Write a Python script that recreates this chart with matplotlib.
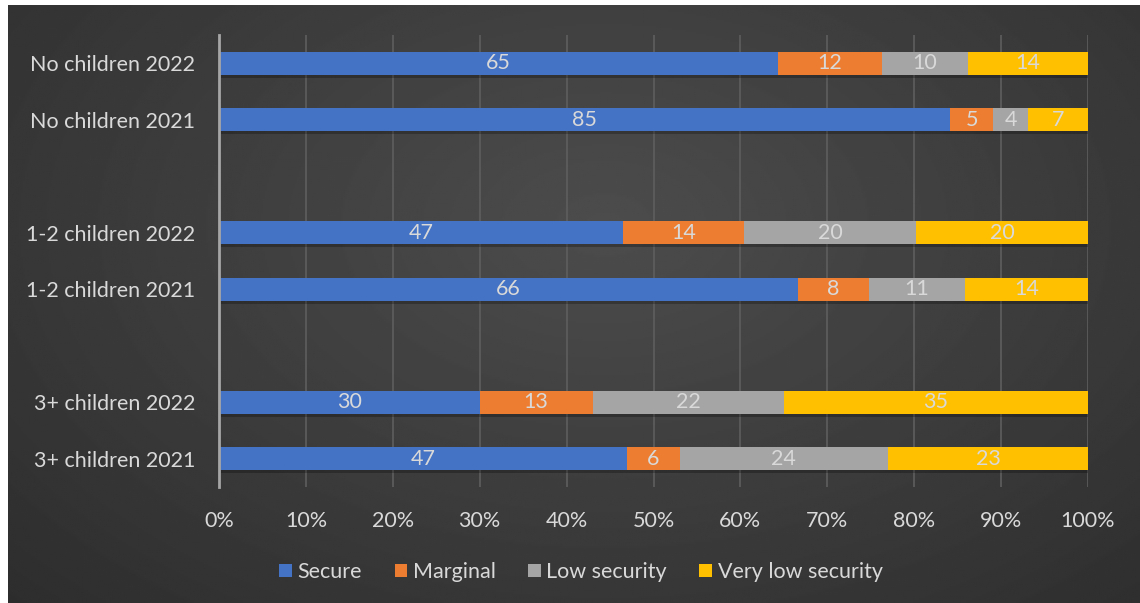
import numpy as np
import matplotlib
matplotlib.use('Agg')
import matplotlib.pyplot as plt
from matplotlib import patheffects

plt.rcParams['font.family'] = ['Lato', 'DejaVu Sans']

# data (raw values as printed on the bars)
groups = ['3+ children 2021', '3+ children 2022', '',
          '1-2 children 2021', '1-2 children 2022', '',
          'No children 2021', 'No children 2022']
series = ['Secure', 'Marginal', 'Low security', 'Very low security']
secure = [47, 30, None, 66, 47, None, 85, 65]
marginal = [6, 13, None, 8, 14, None, 5, 12]
low = [24, 22, None, 11, 20, None, 4, 10]
very_low = [23, 35, None, 14, 20, None, 7, 14]
colors = ['#4472C4', '#ED7D31', '#A5A5A5', '#FFC000']

fig = plt.figure(figsize=(11.4, 6.03), dpi=100)
fig.patch.set_facecolor('white')

# dark radial gradient panel
bg = fig.add_axes([8 / 1140, 0, 1 - 8 / 1140, 598 / 603])
yy, xx = np.mgrid[0:300, 0:570]
r = np.sqrt(((xx - 300) / 520.0) ** 2 + ((yy - 110) / 330.0) ** 2)
r = np.clip(r, 0, 1)
c = 0.30 - 0.15 * r
bg.imshow(c, cmap='gray', vmin=0, vmax=1, aspect='auto', extent=[0, 1, 0, 1], origin='upper')
bg.axis('off')

ax = fig.add_axes([219 / 1140, 116 / 603, 869 / 1140, 452 / 603])
ax.set_facecolor('none')

data = np.array([[v if v is not None else 0 for v in s] for s in (secure, marginal, low, very_low)], dtype=float)
totals = data.sum(axis=0)
totals[totals == 0] = 1
pct = data / totals * 100

fs = 15.5
ypos = np.arange(len(groups))
left = np.zeros(len(groups))
shadow = [patheffects.SimplePatchShadow(offset=(1.5, -2), alpha=0.25, shadow_rgbFace='black'), patheffects.Normal()]
for i, name in enumerate(series):
    bars = ax.barh(ypos, pct[i], left=left, height=0.41, color=colors[i], label=name, zorder=3)
    for b in bars:
        b.set_path_effects(shadow)
    for j in range(len(groups)):
        if data[i, j] > 0:
            ax.text(left[j] + pct[i, j] / 2, ypos[j], '%d' % data[i, j], ha='center', va='center',
                    color='#D9D9D9', fontsize=fs, zorder=4)
    left += pct[i]

ax.set_xlim(0, 100)
ax.set_ylim(-0.5, len(groups) - 0.5)
ax.set_yticks(ypos)
ax.set_yticklabels(groups)
ax.set_xticks(np.arange(0, 101, 10))
ax.set_xticklabels(['%d%%' % t for t in range(0, 101, 10)])
ax.tick_params(axis='both', length=0, colors='#D9D9D9', labelsize=fs)
ax.tick_params(axis='x', pad=17)
ax.tick_params(axis='y', pad=17)
ax.grid(axis='x', color='#5E5E5E', linewidth=1.2, zorder=0)
for s in ['top', 'right', 'bottom']:
    ax.spines[s].set_visible(False)
ax.spines['left'].set_color('#A6A6A6')
ax.spines['left'].set_linewidth(2)
ax.spines['left'].set_zorder(5)

leg = fig.legend(loc='center', bbox_to_anchor=(581 / 1140, 1 - 572 / 603), ncol=4, frameon=False,
                 fontsize=fs, labelcolor='#D9D9D9', handlelength=0.6, handleheight=0.6,
                 handletextpad=0.25, columnspacing=1.5)
for h in leg.legend_handles:
    h.set_path_effects([])

plt.savefig('out.png', dpi=100)
